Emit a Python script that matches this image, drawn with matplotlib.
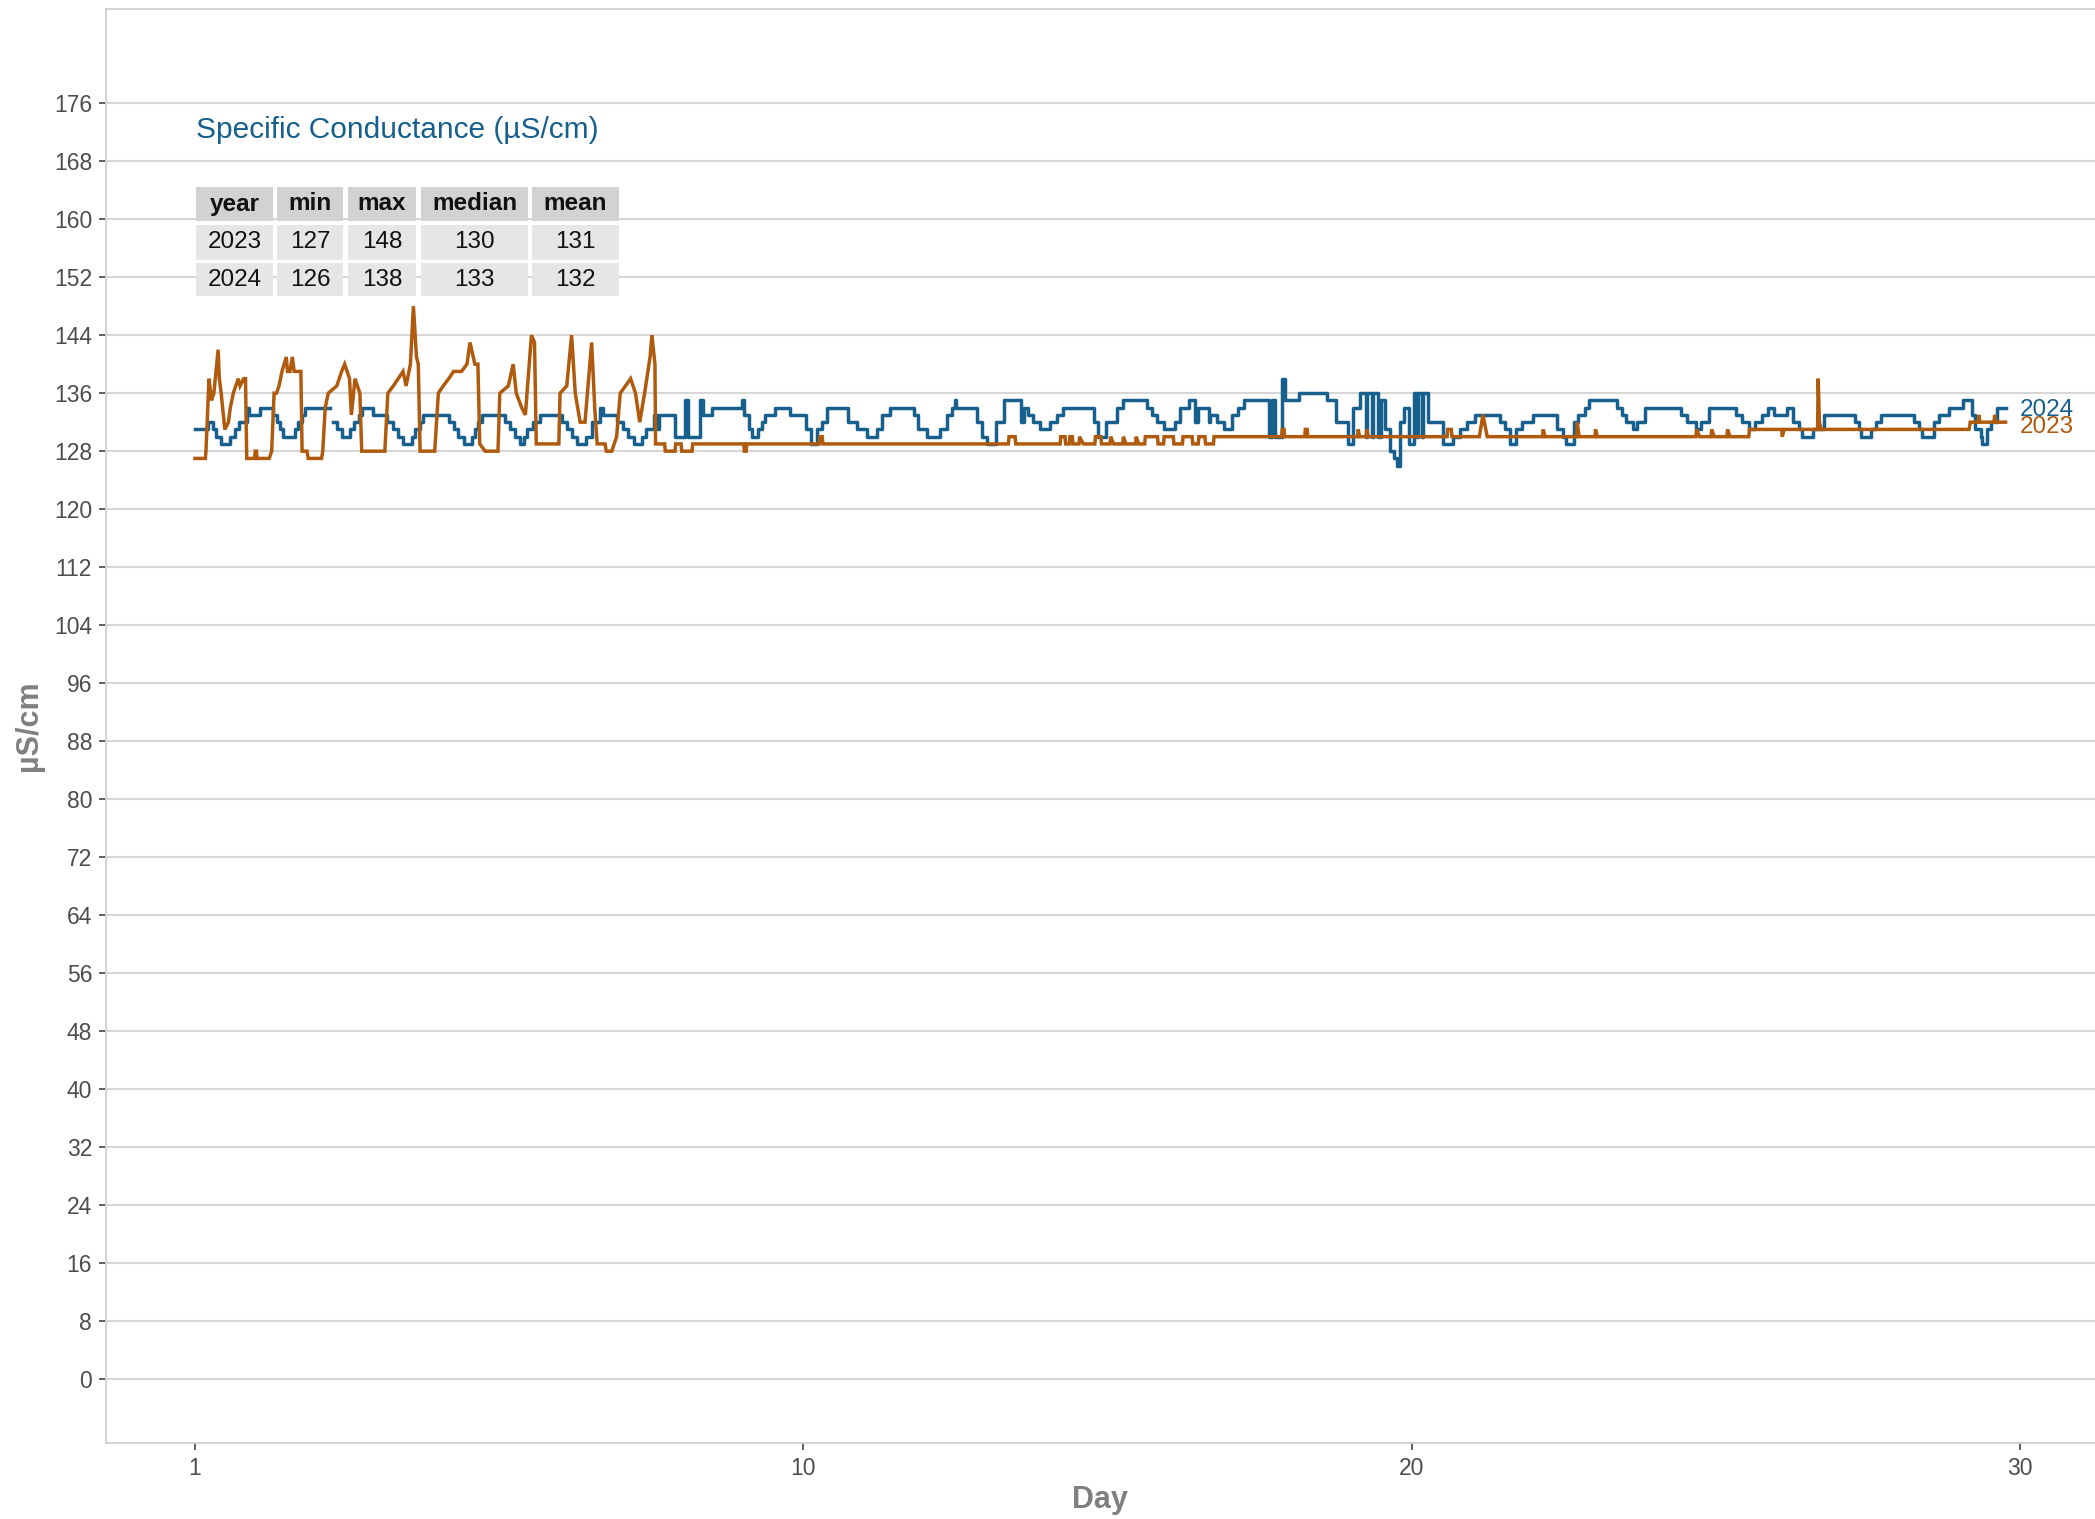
import numpy as np
import matplotlib
matplotlib.use("Agg")
import matplotlib.pyplot as plt
from matplotlib.patches import Rectangle

plt.rcParams['font.family'] = ['Liberation Sans', 'DejaVu Sans']

# ---- data (x = days elapsed since the 1st) ----
day_2024 = [0.00, 0.17, 0.22, 0.30, 0.35, 0.43, 0.52, 0.58, 0.66, 0.73, 0.85, 0.89, 1.04, 1.07, 1.23,
            1.28, 1.34, 1.40, 1.45, 1.56, 1.64, 1.70, 1.76, 1.81, 2.16, 2.22, 2.27, 2.33, 2.41, 2.46,
            2.54, 2.61, 2.69, 2.74, 2.91, 2.93, 3.09, 3.15, 3.26, 3.34, 3.42, 3.51, 3.56, 3.62, 3.70,
            3.75, 4.08, 4.17, 4.25, 4.33, 4.42, 4.47, 4.55, 4.60, 4.65, 4.72, 5.01, 5.10, 5.18, 5.26,
            5.35, 5.40, 5.46, 5.56, 5.67, 5.95, 6.03, 6.11, 6.19, 6.28, 6.36, 6.43, 6.52, 6.66, 6.71,
            6.85, 6.93, 7.04, 7.12, 7.21, 7.26, 7.34, 7.42, 7.54, 7.58, 7.59, 7.62, 7.81, 7.89, 8.03,
            8.05, 8.11, 8.22, 8.30, 8.35, 8.49, 8.85, 8.97, 8.99, 9.02, 9.10, 9.15, 9.20, 9.26, 9.32,
            9.37, 9.53, 9.67, 9.78, 10.00, 10.05, 10.13, 10.22, 10.30, 10.38, 10.66, 10.74, 10.80,
            10.88, 11.04, 11.13, 11.21, 11.29, 11.43, 11.73, 11.81, 11.89, 12.03, 12.16, 12.24, 12.36,
            12.44, 12.49, 12.51, 12.74, 12.85, 12.94, 13.02, 13.10, 13.17, 13.29, 13.50, 13.57, 13.62,
            13.70, 13.78, 13.89, 13.97, 14.05, 14.17, 14.27, 14.71, 14.77, 14.85, 14.98, 15.15, 15.21,
            15.26, 15.56, 15.64, 15.73, 15.81, 15.92, 16.03, 16.11, 16.19, 16.34, 16.41, 16.44, 16.49,
            16.64, 16.66, 16.69, 16.80, 16.91, 16.99, 17.04, 17.15, 17.24, 17.59, 17.66, 17.70, 17.75,
            17.87, 17.92, 18.03, 18.14, 18.50, 18.60, 18.75, 18.93, 18.95, 19.04, 19.15, 19.23, 19.24,
            19.26, 19.34, 19.35, 19.37, 19.42, 19.44, 19.50, 19.56, 19.64, 19.70, 19.75, 19.80, 19.88,
            19.95, 20.03, 20.08, 20.09, 20.11, 20.16, 20.17, 20.19, 20.21, 20.27, 20.46, 20.51, 20.63,
            20.68, 20.79, 20.90, 21.04, 21.39, 21.45, 21.53, 21.61, 21.72, 21.81, 21.99, 22.27, 22.38,
            22.49, 22.54, 22.66, 22.74, 22.84, 22.92, 23.26, 23.37, 23.45, 23.52, 23.63, 23.71, 23.83,
            24.34, 24.42, 24.53, 24.67, 24.75, 24.88, 25.25, 25.33, 25.42, 25.54, 25.64, 25.75, 25.85,
            25.95, 26.06, 26.16, 26.26, 26.37, 26.42, 26.50, 26.59, 26.78, 27.19, 27.28, 27.35, 27.38,
            27.46, 27.55, 27.63, 27.71, 28.18, 28.26, 28.33, 28.38, 28.51, 28.59, 28.66, 28.83, 28.93,
            29.06, 29.16, 29.21, 29.26, 29.35, 29.38, 29.46, 29.52, 29.62, 29.76]
sc_2024 = [131, 131, 132, 131, 130, 129, 129, 130, 131, 132, 134, 133, 133, 134, 134,
           133, 132, 131, 130, 130, 131, 132, 133, 134, 134, np.nan, 132, 131, 130, 130,
           131, 132, 133, 134, 134, 133, 133, 132, 131, 130, 129, 129, 130, 131, 132,
           133, 133, 132, 131, 130, 129, 129, 130, 131, 132, 133, 133, 132, 131, 130,
           129, 130, 131, 132, 133, 133, 132, 131, 130, 129, 129, 130, 132, 134, 133,
           133, 132, 131, 130, 129, 129, 130, 131, 133, 133, 131, 133, 133, 130, 130,
           135, 130, 130, 135, 133, 134, 134, 134, 135, 133, 131, 130, 130, 131, 132,
           133, 134, 134, 133, 133, 131, 129, 131, 132, 134, 134, 132, 132,
           131, 130, 130, 131, 133, 134, 134, 133, 131, 130, 130, 131, 133,
           134, 135, 134, 134, 132, 130, 129, 129, 132, 135, 135, 132, 134,
           133, 132, 131, 131, 132, 133, 134, 134, 132, 130, 132, 134, 134,
           135, 135, 134, 133, 132, 131, 131, 132, 134, 135, 135, 132, 134,
           134, 132, 133, 132, 131, 131, 133, 134, 135, 135, 130, 135, 130,
           138, 135, 135, 136, 136, 135, 132, 132, 129, 134, 136, 136, 130,
           136, 136, 130, 136, 136, 130, 135, 131, 128, 127, 126, 132, 134,
           129, 136, 136, 130, 136, 136, 130, 136, 136, 132, 132, 129, 129,
           130, 131, 132, 133, 133, 132, 131, 129, 131, 132, 133, 133, 131,
           130, 129, 132, 133, 134, 135, 135, 134, 133, 132, 131, 132, 134,
           134, 133, 132, 131, 132, 134, 134, 133, 132, 131, 132, 133, 134,
           133, 133, 134, 132, 131, 130, 130, 131, 133, 133, 132, 131, 130,
           130, 131, 132, 133, 133, 132, 131, 130, 130, 132, 133, 134, 134,
           135, 135, 133, 131, 130, 129, 131, 132, 134, 134]

day_2023 = [0.00, 0.17, 0.18, 0.23, 0.27, 0.31, 0.38, 0.40, 0.43, 0.49, 0.55, 0.58, 0.63, 0.71, 0.74,
            0.80, 0.83, 0.85, 0.98, 0.99, 1.01, 1.02, 1.22, 1.26, 1.30, 1.34, 1.38, 1.43, 1.50, 1.52,
            1.56, 1.60, 1.63, 1.74, 1.76, 1.84, 1.86, 2.08, 2.10, 2.14, 2.19, 2.33, 2.41, 2.46, 2.54,
            2.57, 2.63, 2.71, 2.74, 3.12, 3.17, 3.26, 3.34, 3.42, 3.47, 3.54, 3.59, 3.64, 3.67, 3.70,
            3.94, 4.00, 4.08, 4.17, 4.25, 4.38, 4.47, 4.52, 4.60, 4.65, 4.68, 4.77, 4.85, 4.98, 5.01,
            5.15, 5.23, 5.28, 5.37, 5.43, 5.53, 5.58, 5.61, 5.98, 6.00, 6.11, 6.19, 6.25, 6.33, 6.41,
            6.52, 6.57, 6.61, 6.74, 6.76, 6.85, 6.93, 6.99, 7.16, 7.24, 7.31, 7.39, 7.48, 7.51, 7.56,
            7.57, 7.72, 7.73, 7.89, 7.90, 7.99, 8.00, 8.17, 8.18, 9.02, 9.03, 9.06, 9.07, 10.26, 10.27,
            10.31, 10.32, 13.37, 13.38, 13.48, 13.49, 14.22, 14.23, 14.30, 14.31, 14.37, 14.38, 14.42,
            14.43, 14.53, 14.54, 14.60, 14.79, 14.80, 14.89, 14.90, 15.04, 15.05, 15.10, 15.25, 15.26,
            15.30, 15.46, 15.47, 15.51, 15.61, 15.62, 15.82, 15.83, 15.92, 15.93, 16.08, 16.09, 16.23,
            16.24, 16.39, 16.40, 16.49, 16.50, 16.60, 16.61, 16.74, 16.75, 17.86, 17.87, 17.90, 17.91,
            18.24, 18.25, 18.28, 18.29, 19.11, 19.12, 19.14, 19.25, 19.26, 19.28, 20.58, 20.59, 20.65,
            20.66, 21.11, 21.17, 21.24, 22.15, 22.16, 22.19, 22.71, 22.72, 22.75, 23.01, 23.02, 23.05,
            24.67, 24.68, 24.73, 24.92, 24.93, 24.97, 25.18, 25.19, 25.23, 25.54, 25.55, 26.08, 26.09,
            26.12, 26.67, 26.68, 26.70, 26.73, 29.16, 29.18, 29.31, 29.32, 29.34, 29.57, 29.58, 29.60,
            29.76]
sc_2023 = [127, 127, 128, 138, 135, 136, 142, 138, 136, 131, 132, 134, 136, 138, 137,
           138, 138, 127, 127, 128, 128, 127, 127, 128, 136, 136, 137, 139, 141, 139,
           139, 141, 139, 139, 128, 128, 127, 127, 128, 134, 136, 137, 139, 140, 138,
           133, 138, 136, 128, 128, 136, 137, 138, 139, 137, 140, 148, 141, 140, 128,
           128, 136, 137, 138, 139, 139, 140, 143, 140, 140, 129, 128, 128, 128, 136,
           137, 140, 136, 134, 133, 144, 143, 129, 129, 136, 137, 144, 136, 132, 132,
           143, 134, 129, 129, 128, 128, 130, 136, 138, 136, 132, 136, 141, 144, 140,
           129, 129, 128, 128, 129, 129, 128, 128, 129, 129, 128, 128, 129, 129, 130,
           130, 129, 129, 130, 130, 129, 129, 130, 130, 129, 129, 130, 130,
           129, 129, 130, 129, 129, 130, 130, 129, 129, 130, 129, 129, 130,
           129, 129, 130, 129, 129, 130, 130, 129, 129, 130, 130, 129, 129,
           130, 130, 129, 129, 130, 130, 129, 129, 130, 130, 131, 131, 130,
           130, 131, 131, 130, 130, 131, 130, 130, 131, 130, 130, 131, 131,
           130, 130, 133, 130, 130, 131, 130, 130, 132, 130, 130, 131, 130,
           130, 131, 130, 130, 131, 130, 130, 131, 130, 130, 131, 131, 130,
           131, 131, 138, 132, 131, 131, 132, 132, 133, 132, 132, 133, 132,
           132]

years = ['2023', '2024']
stat_cols = ['year', 'min', 'max', 'median', 'mean']
stat_min = [127, 126]
stat_max = [148, 138]
stat_median = [130, 133]
stat_mean = [131, 132]

y_ticks = list(range(0, 177, 8))
x_ticks = [0, 10, 20, 30]
x_tick_labels = ['1', '10', '20', '30']

c2023 = '#b05a0e'
c2024 = '#17608e'

W, H = 2095, 1519
fig = plt.figure(figsize=(W / 100, H / 100), dpi=100)
ax = fig.add_axes([106 / W, 1 - 1443 / H, 1 - 106 / W, (1443 - 9) / H])

# 2024 moves in whole-number stairs, 2023 has sharp spikes
ax.plot(day_2024, sc_2024, color=c2024, lw=2.5, drawstyle='steps-post')
ax.plot(day_2023, sc_2023, color=c2023, lw=2.5, solid_joinstyle='miter')

ax.set_xlim(-1.463, 31.23)
ax.set_ylim(-8.83, 189.0)
ax.set_yticks(y_ticks)
ax.set_xticks(x_ticks)
ax.set_xticklabels(x_tick_labels)
ax.grid(axis='y', color='#d6d6d6', lw=1.5)
ax.grid(axis='x', visible=False)
ax.set_axisbelow(True)
ax.tick_params(axis='both', labelsize=16.5, labelcolor='#4d4d4d', color='#333333',
               length=5, width=1.1, pad=5)
for s in ['left', 'bottom', 'top']:
    ax.spines[s].set_color('#d0d0d0')
    ax.spines[s].set_linewidth(1.3)
ax.spines['right'].set_visible(False)

# end-of-line series labels
ax.text(30.0, 133.7, '2024', color=c2024, fontsize=17.5, ha='left', va='center')
ax.text(30.0, 131.3, '2023', color=c2023, fontsize=17.5, ha='left', va='center')

fig.text(29 / W, 1 - 726 / H, 'µS/cm', rotation=90, ha='center', va='center',
         fontsize=22, fontweight='bold', color='#808080')
fig.text(1100 / W, 1 - 1500 / H, 'Day', ha='center', va='center',
         fontsize=22, fontweight='bold', color='#808080')


# title and summary table, placed in figure pixels
def fx(x):
    return x / W


def fy(y):
    return 1 - y / H


fig.text(fx(196), fy(130), 'Specific Conductance (µS/cm)', ha='left', va='center',
         fontsize=21.5, color=c2024)

col_edges = [(196, 273), (277, 343), (348, 416), (421, 528), (532, 619)]
row_edges = [(187, 221), (225, 260), (263, 296)]
rows = [stat_cols] + [[years[i], str(stat_min[i]), str(stat_max[i]),
                       str(stat_median[i]), str(stat_mean[i])] for i in range(len(years))]
for r, (y0, y1) in enumerate(row_edges):
    for c, (x0, x1) in enumerate(col_edges):
        bg = '#d2d2d2' if r == 0 else '#e6e6e6'
        fig.patches.append(Rectangle((fx(x0), fy(y1)), fx(x1) - fx(x0), fy(y0) - fy(y1),
                                     transform=fig.transFigure, facecolor=bg,
                                     edgecolor='none', zorder=3))
        fig.text(fx((x0 + x1) / 2), fy((y0 + y1) / 2), rows[r][c], ha='center', va='center',
                 fontsize=17.5, fontweight='bold' if r == 0 else 'normal',
                 color='#111111', zorder=4)

fig.savefig('out.png', dpi=100)
